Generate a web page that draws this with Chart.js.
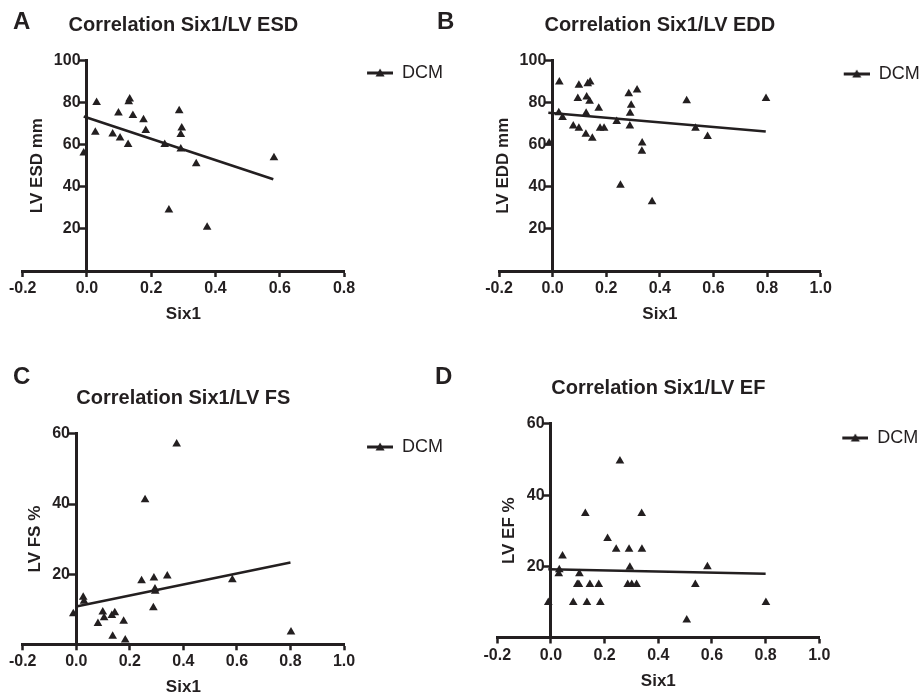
<!DOCTYPE html>
<html>
<head>
<meta charset="utf-8">
<script src="https://cdn.jsdelivr.net/npm/chart.js@4.4.1/dist/chart.umd.min.js"></script>
<style>
  html, body { margin: 0; padding: 0; background: #fff; overflow: hidden; width: 919px; height: 694px; }
  canvas { position: absolute; }
  .tag { position: absolute; font: bold 24px "Liberation Sans", Arial, sans-serif; line-height: 24px; color: #231f20; }
</style>
</head>
<body>
<canvas id="chartA" width="460" height="330" style="left:0;top:0"></canvas>
<canvas id="chartB" width="480" height="330" style="left:460px;top:0"></canvas>
<canvas id="chartC" width="460" height="360" style="left:0;top:340px"></canvas>
<canvas id="chartD" width="480" height="360" style="left:460px;top:340px"></canvas>
<div class="tag" style="left:13px;top:9px">A</div>
<div class="tag" style="left:437px;top:9px">B</div>
<div class="tag" style="left:13px;top:364px">C</div>
<div class="tag" style="left:435px;top:364px">D</div>
<script>
// data
const sixEsd = [-0.01, 0.026, 0.03, 0.08, 0.098, 0.103, 0.128, 0.133, 0.13, 0.143, 0.176, 0.183, 0.242, 0.255, 0.287, 0.295, 0.292, 0.292, 0.34, 0.374, 0.582];
const lvEsd  = [56, 65.8, 79.9, 65, 74.9, 63.1, 60, 81.6, 80.3, 73.8, 71.7, 66.7, 60, 28.9, 76, 67.8, 64.7, 57.9, 50.9, 20.7, 53.7];
const fitEsdX = [-0.01, 0.58];
const fitEsdY = [73.3, 43.5];

const sixEdd = [-0.013, 0.025, 0.023, 0.037, 0.077, 0.098, 0.094, 0.098, 0.125, 0.124, 0.131, 0.14, 0.127, 0.138, 0.148, 0.172, 0.177, 0.192, 0.239, 0.253, 0.284, 0.315, 0.293, 0.289, 0.288, 0.334, 0.333, 0.371, 0.5, 0.533, 0.578, 0.796];
const lvEdd  = [60.8, 89.8, 75.2, 72.9, 68.9, 88.2, 82, 67.8, 74.9, 65, 88.9, 89.8, 82.7, 80.7, 63.1, 77.3, 67.8, 67.8, 71, 40.7, 84.2, 86, 78.8, 74.9, 68.9, 60.8, 56.9, 32.9, 80.9, 67.8, 63.9, 82];
const fitEddX = [-0.016, 0.795];
const fitEddY = [75.2, 66.3];

const sixFs = [-0.011, 0.026, 0.029, 0.081, 0.099, 0.104, 0.133, 0.144, 0.136, 0.177, 0.183, 0.244, 0.257, 0.29, 0.294, 0.295, 0.288, 0.34, 0.375, 0.583, 0.802];
const lvFs  = [8.7, 13.4, 12.3, 5.9, 9.2, 7.6, 8.2, 9, 2.3, 6.6, 1.2, 18.1, 41.2, 18.9, 15.8, 15.1, 10.4, 19.5, 57.1, 18.4, 3.5];
const fitFsX = [0, 0.8];
const fitFsY = [10.8, 23.3];

const sixEf = [-0.01, 0.029, 0.031, 0.043, 0.083, 0.098, 0.104, 0.106, 0.128, 0.134, 0.145, 0.178, 0.184, 0.211, 0.243, 0.257, 0.291, 0.294, 0.286, 0.301, 0.319, 0.338, 0.339, 0.506, 0.538, 0.583, 0.801];
const lvEf  = [9.8, 17.9, 19, 22.9, 9.8, 14.9, 14.9, 17.9, 34.8, 9.8, 14.9, 14.9, 9.8, 27.8, 24.8, 49.6, 24.8, 19.7, 14.9, 14.9, 14.9, 34.8, 24.8, 4.9, 14.9, 19.9, 9.8];
const fitEfX = [-0.01, 0.8];
const fitEfY = [19.2, 17.9];

const ink = '#231f20';
Chart.defaults.font.family = '"Liberation Sans", Arial, sans-serif';
Chart.defaults.color = ink;

// legend marker: short line with a triangle on it
const legendMark = document.createElement('canvas');
legendMark.width = 44;
legendMark.height = 12;
(function () {
  const c = legendMark.getContext('2d');
  c.strokeStyle = ink;
  c.lineWidth = 3;
  c.beginPath(); c.moveTo(18, 6); c.lineTo(44, 6); c.stroke();
  c.fillStyle = ink;
  c.beginPath(); c.moveTo(31, 1.5); c.lineTo(35.5, 9.5); c.lineTo(26.5, 9.5); c.closePath(); c.fill();
})();

// y title sits between the -0.2 edge and the y axis drawn at x = 0
const yTitle = {
  id: 'yTitle',
  afterDraw(chart, args, opts) {
    const {ctx, chartArea, scales} = chart;
    const x = scales.x.getPixelForValue(0) - opts.offset;
    const y = (chartArea.top + chartArea.bottom) / 2;
    ctx.save();
    ctx.translate(x, y);
    ctx.rotate(-Math.PI / 2);
    ctx.font = 'bold 17px "Liberation Sans", Arial, sans-serif';
    ctx.fillStyle = ink;
    ctx.textAlign = 'center';
    ctx.textBaseline = 'middle';
    ctx.fillText(opts.text, 0, 0);
    ctx.restore();
  }
};

const pts = (xs, ys) => xs.map((x, i) => ({x: x, y: ys[i]}));
const tickFont = { size: 16, weight: 'bold' };

function drawPanel(id, p) {
  return new Chart(document.getElementById(id), {
    type: 'scatter',
    data: {
      datasets: [{
        label: 'DCM',
        data: pts(p.xs, p.ys),
        pointStyle: 'triangle',
        pointRadius: 5,
        pointHoverRadius: 5,
        backgroundColor: ink,
        borderColor: ink,
        borderWidth: 0
      }, {
        label: 'fit',
        data: pts(p.fitX, p.fitY),
        showLine: true,
        pointRadius: 0,
        borderColor: ink,
        borderWidth: 2.5
      }]
    },
    options: {
      responsive: false,
      animation: false,
      devicePixelRatio: 1,
      layout: { padding: p.pad },
      plugins: {
        title: {
          display: true, text: p.title, fullSize: false, color: ink,
          font: { size: 20, weight: 'bold' }, padding: p.titlePad
        },
        legend: {
          position: 'right', align: 'start', maxWidth: 200,
          title: { display: true, text: ' ', font: { size: 10 }, padding: { top: p.legendDrop, bottom: 0 } },
          labels: {
            usePointStyle: true, pointStyle: legendMark, pointStyleWidth: 44,
            padding: 5, color: ink, font: { size: 18 },
            filter: item => item.datasetIndex === 0
          }
        },
        tooltip: { enabled: false },
        yTitle: { text: p.yTitle, offset: p.yOffset }
      },
      scales: {
        x: {
          type: 'linear', min: -0.2, max: p.xMax,
          ticks: { stepSize: 0.2, padding: 2, color: ink, font: tickFont,
                   callback: v => Math.abs(v) < 1e-9 ? '0.0' : v.toFixed(1) },
          grid: { drawOnChartArea: false, tickLength: 6, tickWidth: 2.5, tickColor: ink, color: ink },
          border: { width: 3, color: ink },
          title: { display: true, text: 'Six1', color: ink, font: { size: 17, weight: 'bold' },
                   padding: { top: 4, bottom: 0 } }
        },
        // axis line and tick marks at x = 0
        y: {
          type: 'linear', position: { x: 0 }, min: 0, max: p.yMax,
          ticks: { stepSize: 20, display: false },
          grid: { drawOnChartArea: false, tickLength: 6, tickWidth: 2.5, tickColor: ink, color: ink },
          border: { width: 3, color: ink }
        },
        // tick labels, set just left of the tick marks
        yLabels: {
          type: 'linear', axis: 'y', position: { x: p.labelAt }, min: 0, max: p.yMax,
          ticks: { stepSize: 20, color: ink, font: tickFont, callback: v => v === 0 ? '' : v },
          grid: { display: false },
          border: { display: false }
        }
      }
    },
    plugins: [yTitle]
  });
}

drawPanel('chartA', {
  xs: sixEsd, ys: lvEsd, fitX: fitEsdX, fitY: fitEsdY, xMax: 0.8, yMax: 100, labelAt: -0.02,
  title: 'Correlation Six1/LV ESD', yTitle: 'LV ESD mm', yOffset: 50, legendDrop: 47,
  pad: { left: 22.7, right: 7, top: 0, bottom: 5.4 }, titlePad: { top: 13.6, bottom: 22.6 }
});
drawPanel('chartB', {
  xs: sixEdd, ys: lvEdd, fitX: fitEddX, fitY: fitEddY, xMax: 1.0, yMax: 100, labelAt: -0.0235,
  title: 'Correlation Six1/LV EDD', yTitle: 'LV EDD mm', yOffset: 49, legendDrop: 48,
  pad: { left: 39, right: 10.3, top: 0, bottom: 5.4 }, titlePad: { top: 13.6, bottom: 22.9 }
});
drawPanel('chartC', {
  xs: sixFs, ys: lvFs, fitX: fitFsX, fitY: fitFsY, xMax: 1.0, yMax: 60, labelAt: -0.0235,
  title: 'Correlation Six1/LV FS', yTitle: 'LV FS %', yOffset: 41, legendDrop: 81,
  pad: { left: 22.7, right: 7, top: 0, bottom: 2.1 }, titlePad: { top: 46.9, bottom: 23 }
});
drawPanel('chartD', {
  xs: sixEf, ys: lvEf, fitX: fitEfX, fitY: fitEfY, xMax: 1.0, yMax: 60, labelAt: -0.0235,
  title: 'Correlation Six1/LV EF', yTitle: 'LV EF %', yOffset: 42, legendDrop: 72,
  pad: { left: 37.3, right: 11.7, top: 0, bottom: 8.9 }, titlePad: { top: 36.9, bottom: 23 }
});
</script>
</body>
</html>
